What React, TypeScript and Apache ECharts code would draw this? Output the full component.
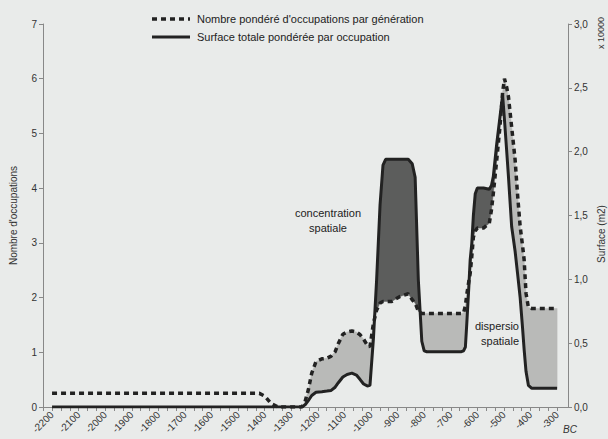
import React, { useEffect, useRef } from "react";
import * as echarts from "echarts";

const years = [-2200, -1420, -1400, -1375, -1350, -1260, -1248, -1236, -1223, -1207, -1185, -1166, -1150, -1135, -1123, -1106, -1090, -1072, -1055, -1041, -1028, -1014, -1004, -991, -979, -966, -955, -945, -922, -891, -860, -845, -834, -822, -809, -800, -790, -660, -652, -645, -640, -632, -627, -621, -615, -608, -600, -577, -555, -547, -540, -527, -515, -505, -498, -490, -483, -471, -458, -449, -439, -430, -424, -417, -408, -395, -300];

// Nombre pondéré d'occupations par génération (left axis)
const occupations = [0.25, 0.25, 0.2, 0.06, 0, 0, 0.1, 0.31, 0.62, 0.83, 0.88, 0.89, 0.93, 1.01, 1.16, 1.33, 1.37, 1.39, 1.37, 1.32, 1.24, 1.13, 1.1, 1.53, 1.77, 1.9, 1.93, 1.93, 1.93, 2.02, 2.07, 1.96, 1.9, 1.75, 1.71, 1.71, 1.71, 1.71, 1.72, 1.85, 2.05, 2.3, 2.44, 2.75, 3.1, 3.22, 3.27, 3.27, 3.36, 3.6, 3.9, 4.52, 5.12, 5.75, 6.0, 5.85, 5.67, 5.12, 4.52, 3.9, 3.3, 2.95, 2.69, 2.08, 1.82, 1.8, 1.8];

// Surface totale pondérée par occupation (right axis, x 10000 m2)
const surface = [0, 0, 0, 0, 0, 0, 0.017, 0.05, 0.09, 0.115, 0.12, 0.125, 0.13, 0.155, 0.19, 0.235, 0.255, 0.265, 0.25, 0.215, 0.18, 0.165, 0.17, 0.535, 0.995, 1.585, 1.895, 1.94, 1.94, 1.94, 1.94, 1.905, 1.8, 0.995, 0.515, 0.44, 0.433, 0.433, 0.44, 0.47, 0.645, 0.945, 1.153, 1.28, 1.5, 1.67, 1.715, 1.715, 1.705, 1.735, 1.805, 2.065, 2.27, 2.443, 2.25, 2.015, 1.805, 1.414, 1.22, 1.05, 0.857, 0.62, 0.45, 0.28, 0.17, 0.146, 0.146];

const xTickLabels = [-2200, -2100, -2000, -1900, -1800, -1700, -1600, -1500, -1400, -1300, -1200, -1100, -1000, -900, -800, -700, -600, -500, -400, -300];

const leftMax = 7;
const rightMax = 3;
const fillFromYear = -1260;

const nameOcc = "Nombre pondéré d'occupations par génération";
const nameSurf = "Surface totale pondérée par occupation";

const FONT = "'Liberation Sans', Arial, sans-serif";

export default function App() {
  const ref = useRef<HTMLDivElement>(null);
  useEffect(() => {
    if (!ref.current) return;
    const chart = echarts.init(ref.current, undefined, { renderer: "svg" });
    const ratio = leftMax / rightMax;
    const minorTicks: number[] = [];
    for (let k = -1; k <= 57; k++) minorTicks.push(-2200 + (k * 100) / 3);

    const light = "#b9bab8";
    const dark = "#5c5d5c";

    const renderItem = (params: any, api: any) => {
      if (params.dataIndex !== 0) return { type: "group", children: [] };
      const start = years.findIndex((y) => y >= fillFromYear);
      const polys: { top: number[][]; bot: number[][]; sum: number }[] = [];
      let cur = { top: [] as number[][], bot: [] as number[][], sum: 0 };
      for (let i = start; i < years.length; i++) {
        const x = years[i];
        const d = occupations[i];
        const s = surface[i] * ratio;
        cur.top.push([x, d]);
        cur.bot.push([x, s]);
        cur.sum += d - s;
        if (i + 1 < years.length) {
          const x1 = years[i + 1];
          const d1 = occupations[i + 1];
          const s1 = surface[i + 1] * ratio;
          const diff0 = d - s;
          const diff1 = d1 - s1;
          if (diff0 * diff1 < 0) {
            const t = diff0 / (diff0 - diff1);
            const xt = x + t * (x1 - x);
            const yt = d + t * (d1 - d);
            cur.top.push([xt, yt]);
            cur.bot.push([xt, yt]);
            polys.push(cur);
            cur = { top: [[xt, yt]], bot: [[xt, yt]], sum: 0 };
          }
        }
      }
      polys.push(cur);
      const children = polys.map((p) => {
        const pts = p.top.concat(p.bot.slice().reverse()).map((v) => api.coord(v));
        const color = p.sum >= 0 ? light : dark;
        return {
          type: "polygon",
          shape: { points: pts },
          style: { fill: color, stroke: color, lineWidth: 0.5 },
        };
      });
      return { type: "group", children };
    };

    const bg = "#e9ebea";
    chart.setOption({
      animation: false,
      backgroundColor: bg,
      textStyle: { fontFamily: FONT },
      grid: { left: 43, right: 40, top: 24, bottom: 32 },
      xAxis: {
        type: "value",
        min: -2234,
        max: -259,
        splitLine: { show: false },
        axisLine: { onZero: false, lineStyle: { color: "#888", width: 1 } },
        axisTick: { customValues: minorTicks, length: 4, lineStyle: { color: "#888" } },
        axisLabel: {
          customValues: xTickLabels,
          rotate: 45,
          fontSize: 10,
          color: "#333",
          margin: 6,
          formatter: (v: number) => String(v),
        },
      },
      yAxis: [
        {
          type: "value",
          min: 0,
          max: leftMax,
          interval: 1,
          name: "Nombre d'occupations",
          nameLocation: "middle",
          nameGap: 25,
          nameTextStyle: { fontSize: 10, color: "#333" },
          splitLine: { show: false },
          axisLine: { show: true, lineStyle: { color: "#888" } },
          axisTick: { show: true, length: 4, lineStyle: { color: "#888" } },
          axisLabel: { fontSize: 10, color: "#333", margin: 6 },
        },
        {
          type: "value",
          min: 0,
          max: rightMax,
          interval: 0.5,
          position: "right",
          splitLine: { show: false },
          axisLine: { show: true, lineStyle: { color: "#888" } },
          axisTick: { show: true, length: 4, lineStyle: { color: "#888" } },
          axisLabel: {
            fontSize: 10,
            color: "#333",
            margin: 6,
            formatter: (v: number) => v.toFixed(1).replace(".", ","),
          },
        },
      ],
      graphic: [
        {
          type: "line",
          shape: { x1: 152, y1: 19, x2: 190, y2: 19 },
          style: { stroke: "#222", lineWidth: 3.5, lineDash: [5, 4] },
        },
        {
          type: "text",
          x: 197,
          y: 19,
          style: { text: nameOcc, fontSize: 11, fill: "#222", fontFamily: FONT, verticalAlign: "middle" },
        },
        {
          type: "line",
          shape: { x1: 152, y1: 37, x2: 190, y2: 37 },
          style: { stroke: "#222", lineWidth: 3 },
        },
        {
          type: "text",
          x: 197,
          y: 37,
          style: { text: nameSurf, fontSize: 11, fill: "#222", fontFamily: FONT, verticalAlign: "middle" },
        },
        {
          type: "text",
          x: 601,
          y: 234,
          rotation: Math.PI / 2,
          style: { text: "Surface (m2)", fontSize: 10, fill: "#333", fontFamily: FONT, align: "center", verticalAlign: "middle" },
        },
        {
          type: "text",
          x: 601,
          y: 33,
          rotation: Math.PI / 2,
          style: { text: "x 10000", fontSize: 9, fill: "#333", fontFamily: FONT, align: "center", verticalAlign: "middle" },
        },
        {
          type: "text",
          x: 570,
          y: 429,
          style: { text: "BC", fontSize: 10, fontStyle: "italic", fill: "#333", fontFamily: FONT, align: "center", verticalAlign: "middle" },
        },
        {
          type: "text",
          x: 328,
          y: 220,
          z: 10,
          style: { text: "concentration\nspatiale", fontSize: 11, lineHeight: 15, fill: "#222", fontFamily: FONT, align: "center", verticalAlign: "middle" },
        },
        {
          type: "text",
          x: 519,
          y: 333,
          z: 10,
          style: { text: "dispersio\nspatiale", fontSize: 11, lineHeight: 15, fill: "#222", fontFamily: FONT, align: "right", verticalAlign: "middle" },
        },
      ],
      series: [
        {
          type: "custom",
          name: "fill",
          xAxisIndex: 0,
          yAxisIndex: 0,
          data: [[years[0], occupations[0]]],
          renderItem,
          silent: true,
          z: 1,
          encode: { x: 0, y: 1 },
        },
        {
          type: "line",
          name: nameOcc,
          yAxisIndex: 0,
          data: years.map((y, i) => [y, occupations[i]]),
          symbol: "none",
          showSymbol: false,
          color: "#222",
          lineStyle: { color: "#222", width: 3.5, type: [5, 4] },
          z: 3,
        },
        {
          type: "line",
          name: nameSurf,
          yAxisIndex: 1,
          data: years.map((y, i) => [y, surface[i]]),
          symbol: "none",
          showSymbol: false,
          color: "#222",
          lineStyle: { color: "#222", width: 3 },
          z: 4,
        },
      ],
    });
    return () => chart.dispose();
  }, []);
  return (
    <div
      ref={ref}
      style={{ position: "fixed", left: 0, top: 0, width: 608, height: 439 }}
    />
  );
}
